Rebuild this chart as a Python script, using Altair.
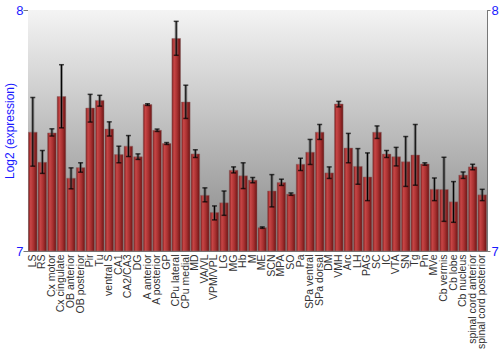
import altair as alt
import pandas as pd

regions = ["LS", "RS", "Cx motor", "Cx cingulate", "OB anterior", "OB posterior", "Pir", "Tu",
           "ventral S", "CA1", "CA2/CA3", "DG", "A anterior", "A posterior", "GP", "CPu lateral",
           "CPu medial", "MD", "VA/VL", "VPM/VPL", "LG", "MG", "Hb", "M", "ME", "SCN", "MPA", "SO",
           "Pa", "SPa ventral", "SPa dorsal", "DM", "VMH", "Arc", "LH", "PAG", "SC", "IC", "VTA",
           "SN", "Tg", "Pn", "MVe", "Cb vermis", "Cb lobe", "Cb nucleus",
           "spinal cord anterior", "spinal cord posterior"]

expression = [7.493, 7.368, 7.490, 7.641, 7.302, 7.346, 7.593, 7.625,
              7.506, 7.400, 7.435, 7.391, 7.608, 7.501, 7.446, 7.882,
              7.618, 7.403, 7.231, 7.160, 7.200, 7.335, 7.312, 7.294, 7.097, 7.249, 7.284, 7.236,
              7.360, 7.410, 7.493, 7.324, 7.610, 7.427, 7.351, 7.307, 7.493, 7.402, 7.391,
              7.370, 7.398, 7.361, 7.256, 7.255, 7.204, 7.315, 7.349, 7.233]

err_low = [7.352, 7.322, 7.477, 7.511, 7.258, 7.327, 7.535, 7.601,
           7.477, 7.366, 7.392, 7.380, 7.604, 7.496, 7.442, 7.812,
           7.550, 7.388, 7.204, 7.129, 7.148, 7.324, 7.259, 7.283, 7.094, 7.183, 7.272, 7.231,
           7.334, 7.359, 7.463, 7.301, 7.598, 7.366, 7.277, 7.209, 7.467, 7.388, 7.353,
           7.268, 7.273, 7.356, 7.209, 7.123, 7.119, 7.301, 7.337, 7.209]

err_high = [7.637, 7.417, 7.507, 7.773, 7.345, 7.366, 7.650, 7.646,
            7.536, 7.435, 7.479, 7.403, 7.611, 7.506, 7.450, 7.953,
            7.688, 7.420, 7.262, 7.187, 7.249, 7.349, 7.366, 7.305, 7.100, 7.317, 7.298, 7.241,
            7.385, 7.463, 7.525, 7.349, 7.621, 7.488, 7.425, 7.407, 7.519, 7.417, 7.430,
            7.475, 7.525, 7.366, 7.303, 7.389, 7.288, 7.328, 7.360, 7.256]

df = pd.DataFrame({"region": regions, "value": expression, "lo": err_low, "hi": err_high})

W, H = 459, 241
xenc = alt.X("region:N", sort=regions,
             scale=alt.Scale(paddingInner=0.1, paddingOuter=0.05),
             axis=alt.Axis(title=None, labelAngle=-90, labelFontSize=10.5, labelColor="#333333",
                           labelFont="Liberation Sans", ticks=False, domain=False, labelPadding=3))


def ysc():
    return alt.Scale(domain=[7, 8], nice=False, zero=False)


bg = alt.Chart(pd.DataFrame({"a": [0]})).mark_rect(
    fill=alt.Gradient(gradient="linear", x1=0, x2=0, y1=0, y2=1,
                      stops=[alt.GradientStop(offset=0, color="#f4f4f4"),
                             alt.GradientStop(offset=1, color="#868686")])
).encode(x=alt.value(0), x2=alt.value(W), y=alt.value(0), y2=alt.value(H))

bars = alt.Chart(df).mark_bar(
    fill=alt.Gradient(gradient="linear", x1=0, x2=1, y1=0, y2=0,
                      stops=[alt.GradientStop(offset=0, color="#7a1a1a"),
                             alt.GradientStop(offset=0.25, color="#c84646"),
                             alt.GradientStop(offset=0.6, color="#a83030"),
                             alt.GradientStop(offset=1, color="#6a1414")]),
    stroke="#8a6a6a", strokeWidth=0.5
).encode(
    x=xenc,
    y=alt.Y("value:Q", scale=ysc(),
            axis=alt.Axis(title="Log2 (expression)", values=[7, 8], format="d", grid=False,
                          labelColor="#1a1aff", labelFontSize=13, labelFont="Liberation Sans",
                          titleColor="#1a1aff", titleFontSize=12, titleFontWeight="normal",
                          titleFont="Liberation Sans", titleX=-19, titleY=H / 2,
                          titleAlign="center", titleBaseline="middle", labelPadding=0,
                          domainColor="#777777", tickColor="#777777", tickSize=5)),
    y2=alt.datum(7)
)

err_shadow = alt.Chart(df).mark_rule(color="#555555", opacity=0.6, strokeWidth=3).encode(
    x=alt.X("region:N", sort=regions), y=alt.Y("lo:Q", scale=ysc(), axis=None), y2="hi:Q")
err = alt.Chart(df).mark_rule(color="#000000", strokeWidth=1).encode(
    x=alt.X("region:N", sort=regions), y=alt.Y("lo:Q", scale=ysc(), axis=None), y2="hi:Q")
cap_lo = alt.Chart(df).mark_tick(color="#000000", thickness=1.5, size=5).encode(
    x=alt.X("region:N", sort=regions), y=alt.Y("lo:Q", scale=ysc(), axis=None))
cap_hi = alt.Chart(df).mark_tick(color="#000000", thickness=1.5, size=5).encode(
    x=alt.X("region:N", sort=regions),
    y=alt.Y("hi:Q", scale=ysc(),
            axis=alt.Axis(orient="right", title=None, values=[7, 8], format="d", grid=False,
                          labelColor="#1a1aff", labelFontSize=13, labelFont="Liberation Sans",
                          domainColor="#777777", tickColor="#777777", tickSize=3, labelPadding=1)))

chart = alt.layer(bg, bars, err_shadow, err, cap_lo, cap_hi).resolve_scale(
    y="independent"
).properties(
    width=W, height=H,
    autosize=alt.AutoSizeParams(type="none"),
    padding={"left": 28, "top": 10, "right": 13, "bottom": 99},
    background="white"
).configure_view(stroke="#777777", strokeWidth=1)

chart.save("out.html", embed_options={"renderer": "svg", "actions": False})
